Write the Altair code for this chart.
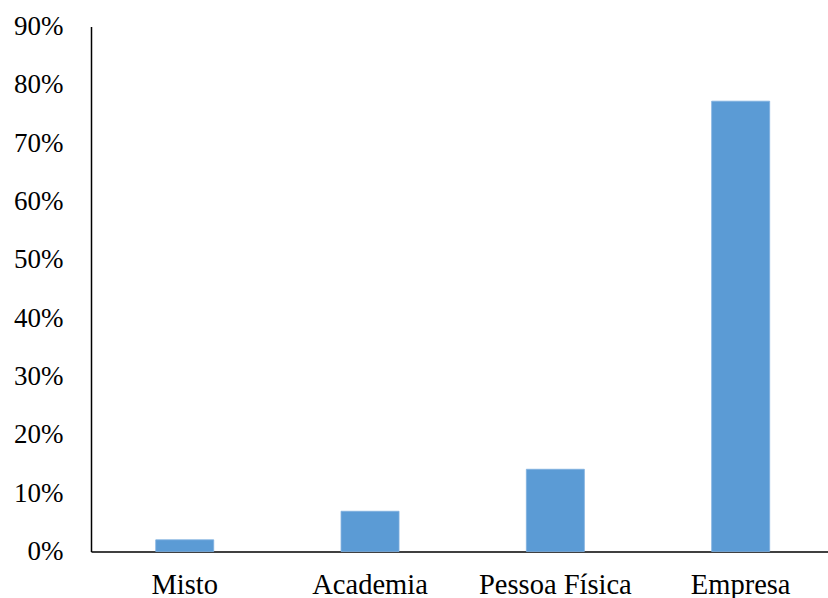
import altair as alt
import pandas as pd

categories = ["Misto", "Academia", "Pessoa Física", "Empresa"]
values = [0.02, 0.069, 0.141, 0.772]

df = pd.DataFrame({"cat": categories, "val": values})

FONT = "Liberation Serif, Times New Roman, DejaVu Serif, serif"

chart = alt.Chart(df).mark_bar(color="#5B9BD5", stroke="#7FB0DF", strokeWidth=0.8).encode(
    x=alt.X("cat:N", sort=categories,
            scale=alt.Scale(paddingInner=0.687, paddingOuter=0.332, align=0.526),
            axis=alt.Axis(title=None, labelAngle=0, ticks=False, labelPadding=19,
                          labelFont=FONT, labelFontSize=28.5, labelColor="#000000",
                          domainColor="#000000", domainWidth=1.5, grid=False)),
    y=alt.Y("val:Q", scale=alt.Scale(domain=[0, 0.9], nice=False),
            axis=alt.Axis(title=None, format=".0%", values=[i / 10 for i in range(10)],
                          ticks=False, labelPadding=28, grid=False,
                          labelFont=FONT, labelFontSize=27, labelColor="#000000",
                          domainColor="#000000", domainWidth=1.5)),
).properties(
    width=737, height=525,
    background="white",
    autosize=alt.AutoSizeParams(type="none"),
    padding={"left": 91, "top": 26.5, "right": 0, "bottom": 46.5},
).configure_view(stroke=None, strokeWidth=0)

chart.save("out.html", embed_options={"renderer": "svg", "actions": False})
